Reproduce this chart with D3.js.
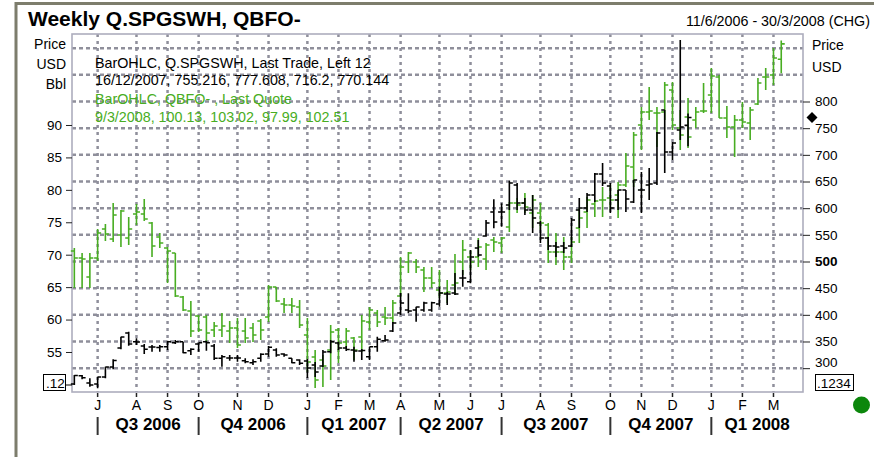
<!DOCTYPE html>
<html><head><meta charset="utf-8">
<script src="https://cdn.jsdelivr.net/npm/d3@7"></script>
<style>
body{margin:0;background:#fff}
svg{display:block;font-family:"Liberation Sans",Arial,sans-serif}
</style>
</head><body>
<svg id="c" width="874" height="457"></svg>
<script>
// ---- data ----
const titleText = "Weekly Q.SPGSWH, QBFO-";
const rangeText = "11/6/2006 - 30/3/2008 (CHG)";
const firstWeek = [2006, 5, 11];   // Sunday 11/6/2006
const lastWeek  = [2008, 2, 9];    // Sunday 9/3/2008

// QBFO- (green, left axis, USD/Bbl)
const gOpen  = [70.57,69.49,66.56,69.49,73.97,72.42,73.04,72.58,76.28,76.28,74.89,72.73,71.04,70.27,63.48,61.32,60.55,60.40,58.39,58.39,58.24,58.70,58.24,58.70,59.78,60.40,65.02,62.40,62.25,61.94,57.62,54.23,53.77,55.31,58.39,56.54,57.16,57.31,59.63,61.01,60.40,60.24,63.64,68.88,68.88,67.64,66.41,64.56,64.10,65.33,68.88,69.65,69.65,69.34,72.27,71.80,74.27,77.97,77.97,76.43,76.43,74.58,70.42,70.42,69.65,74.12,76.59,77.82,78.44,78.74,79.21,80.75,83.52,90.00,92.00,91.85,92.00,95.40,89.54,91.23,90.77,92.16,94.62,97.40,91.08,89.69,90.77,90.31,93.24,97.40,97.71,100.13];
const gHigh  = [71.04,70.27,70.27,73.97,74.74,77.97,76.89,75.81,77.82,78.59,75.04,73.35,71.19,70.27,63.64,62.87,60.70,60.70,59.63,61.01,59.78,60.24,60.24,59.47,60.09,65.33,65.02,63.33,63.33,63.02,60.24,55.31,54.54,59.16,58.70,58.70,57.31,60.70,61.94,61.48,61.94,63.02,69.65,70.42,69.34,68.11,68.11,67.64,66.10,70.11,72.27,70.73,72.58,71.80,72.73,72.73,78.13,78.74,79.52,79.21,77.97,74.89,73.35,72.73,72.73,77.20,78.90,78.44,80.44,80.75,81.21,85.68,88.92,92.77,95.86,92.77,96.63,96.63,92.31,94.16,92.77,96.47,98.79,97.71,92.93,91.54,93.54,92.77,97.25,98.79,101.87,103.02];
const gLow   = [64.87,64.87,64.87,69.03,72.11,71.96,71.19,71.50,74.58,75.20,69.65,71.04,65.64,63.48,61.32,57.31,58.08,56.54,57.31,57.31,56.39,55.62,56.39,56.54,56.85,59.63,62.71,61.01,61.01,58.70,51.92,49.45,49.61,50.68,53.30,55.77,53.77,55.00,58.39,58.86,59.16,59.47,63.48,67.18,67.18,64.25,64.87,63.33,62.56,63.79,66.87,67.64,68.11,67.64,70.42,70.27,73.50,76.43,76.43,74.12,73.81,68.72,68.41,67.64,68.72,71.80,74.12,75.81,75.81,76.89,75.66,80.44,80.44,86.15,90.77,86.61,90.77,89.23,86.15,86.45,89.54,91.85,91.85,91.08,87.99,85.07,89.54,87.69,93.08,95.40,96.17,97.99];
const gClose = [69.49,69.34,69.49,73.35,73.19,76.13,76.74,73.97,76.59,75.51,71.34,71.80,70.57,63.64,61.48,58.24,58.39,57.93,59.01,59.01,58.70,56.08,57.16,57.62,58.39,65.02,62.87,62.25,62.09,59.16,53.46,50.68,52.84,58.08,56.39,58.24,55.31,59.78,61.48,59.63,60.24,62.56,68.11,70.27,68.11,66.41,65.64,64.10,64.25,65.64,70.73,68.88,71.19,71.50,71.96,72.58,77.97,77.67,77.36,78.44,74.89,70.42,70.42,69.65,71.96,75.66,78.44,78.28,78.44,78.44,80.75,83.68,88.46,92.00,92.16,91.85,96.17,90.00,88.46,88.15,92.00,92.16,97.55,91.08,89.69,90.77,90.46,92.31,96.47,97.40,100.33,102.51];

// Q.SPGSWH (black, right axis, USD)
const bOpen  = [270.3,285.9,272.2,270.3,283.4,302.2,337.8,365.9,349.6,341.6,339.7,338.7,340.2,347.7,349.6,332.7,345.3,349.6,341.6,318.5,319.1,319.1,313.9,310.2,318.5,326.6,334.1,326.6,318.5,315.3,313.4,305.9,304.1,330.9,347.2,337.8,334.1,332.2,321.5,340.2,351.5,369.7,403.5,409.1,409.1,409.1,409.1,420.3,439.1,440.9,469.1,462.1,525.3,547.8,592.8,592.8,605.9,643.4,609.7,596.6,572.2,544.1,529.1,529.1,529.1,596.6,600.3,624.7,664.1,641.6,615.3,634.1,611.6,634.1,643.4,647.2,784.1,705.3,746.5,755.216];
const bHigh  = [287.2,287.2,281.0,284.0,302.7,316.6,359.0,368.4,356.0,345.3,343.4,343.4,351.5,352.8,349.6,337.2,347.7,351.5,345.3,324.7,324.7,324.7,318.5,316.6,327.9,341.6,337.2,327.9,318.5,316.6,317.2,311.6,334.1,352.8,349.6,341.6,340.2,335.9,340.2,359.0,362.2,386.5,440.9,440.4,415.2,424.6,424.6,452.7,443.4,478.4,484.1,521.6,540.3,577.8,616.6,609.1,651.5,647.2,619.0,624.7,575.9,545.9,536.6,536.6,581.6,619.0,628.4,665.9,684.7,647.2,634.1,634.1,652.8,667.8,675.3,742.8,784.1,724.1,915.3,777.608];
const bLow   = [268.4,279.1,265.2,262.2,281.0,297.9,335.4,342.1,343.4,326.6,330.9,330.9,334.1,345.3,327.9,324.7,330.9,332.7,315.3,302.7,313.9,312.1,309.1,305.9,312.1,321.5,321.5,321.5,309.1,305.9,281.6,283.4,302.2,327.9,334.1,332.2,312.1,315.3,315.3,330.9,349.6,367.8,399.7,402.9,387.1,405.9,405.9,415.2,418.5,437.2,452.7,459.1,509.0,546.5,562.2,565.2,596.6,596.6,587.2,553.4,534.7,521.6,508.5,515.9,527.2,562.8,592.8,611.6,641.6,590.9,596.6,592.8,609.7,590.9,615.3,643.4,665.9,690.3,727.8,716.2];
const bClose = [286.2,282.1,268.4,283.4,302.2,314.4,358.4,345.3,349.1,335.4,339.7,340.2,349.6,349.6,329.0,335.4,347.7,347.7,318.5,321.5,319.1,319.1,312.1,312.1,326.0,339.1,324.7,324.7,310.2,309.1,300.3,292.8,330.3,349.6,337.8,335.0,332.2,333.1,340.2,354.1,352.8,384.7,422.2,407.2,414.7,422.2,422.7,440.9,439.1,439.1,469.1,508.5,512.2,572.2,574.1,592.8,647.2,609.7,596.6,581.6,544.1,529.1,527.2,525.3,577.8,600.3,624.7,664.1,647.2,600.3,634.1,617.2,652.8,634.1,645.3,740.9,705.3,722.2,752.2,770.144];

const leftTicks  = [55,60,65,70,75,80,85,90];
const rightTicks = [300,350,400,450,500,550,600,650,700,750,800];
const gridValues = [300,350,400,450,500,550,600,650,700,750,800,850,900];
const monthLetters = ["J","F","M","A","M","J","J","A","S","O","N","D"];

// ---- layout ----
const svg = d3.select("#c");
const P = {l:72, r:803, t:34, b:392};
const GREEN = "#48ad22";

const weeks = d3.utcWeek.range(new Date(Date.UTC(...firstWeek)), new Date(Date.UTC(lastWeek[0], lastWeek[1], lastWeek[2]+1)));
const x = d3.scaleLinear().domain([-0.3, 93.8]).range([P.l, P.r]);
const yL = d3.scaleLinear().domain([48.83, 104.03]).range([P.b, P.t]);
const yR = d3.scaleLinear().domain([255.3, 926.6]).range([P.b, P.t]);

// outer frame lines
svg.append("line").attr("x1",16).attr("x2",874).attr("y1",3.5).attr("y2",3.5).attr("stroke","#7d7d6c").attr("stroke-width",3);
svg.append("line").attr("x1",16).attr("x2",16).attr("y1",2).attr("y2",457).attr("stroke","#7d7d6c").attr("stroke-width",3);

// title
svg.append("text").attr("x",28).attr("y",26).attr("font-size",21).attr("font-weight","bold").text(titleText);
svg.append("text").attr("x",870).attr("y",26).attr("text-anchor","end").attr("font-size",14.3).text(rangeText);

// month ticks
const monthIdx = [];
weeks.forEach((d,i)=>{ if(i>0 && d.getUTCMonth()!==weeks[i-1].getUTCMonth()) monthIdx.push(i); });

// grid
const grid = svg.append("g");
grid.selectAll("line.h").data(gridValues).join("line")
  .attr("x1",P.l).attr("x2",P.r).attr("y1",d=>yR(d)).attr("y2",d=>yR(d))
  .attr("stroke","#8f8f9b").attr("stroke-width",2.5).attr("stroke-dasharray","4,3");
grid.selectAll("line.v").data(monthIdx).join("line")
  .attr("x1",d=>x(d)).attr("x2",d=>x(d)).attr("y1",P.t).attr("y2",P.b)
  .attr("stroke","#8f8f9b").attr("stroke-width",2.5).attr("stroke-dasharray","3,4");

// plot border
svg.append("rect").attr("x",P.l).attr("y",P.t).attr("width",P.r-P.l).attr("height",P.b-P.t)
  .attr("fill","none").attr("stroke","#adadbd").attr("stroke-width",1.6);

// OHLC bars
function ohlc(g, O, H, L, C, y, color, w){
  const t = 3.5;
  g.selectAll("path").data(O.map((o,i)=>i)).join("path")
    .attr("d", i => {
      const xi = x(i);
      return `M${xi},${y(H[i])}V${y(L[i])}M${xi-t},${y(O[i])}H${xi}M${xi},${y(C[i])}H${xi+t}`;
    })
    .attr("fill","none").attr("stroke",color).attr("stroke-width",w);
}
ohlc(svg.append("g"), gOpen, gHigh, gLow, gClose, yL, GREEN, 1.6);
ohlc(svg.append("g"), bOpen, bHigh, bLow, bClose, yR, "#000", 1.6);

// legend
const fmt = d3.utcFormat("%-d/%-m/%Y");
const lb = bOpen.length-1, lg = gOpen.length-1;
const leg = svg.append("g").attr("font-size",14.3);
leg.append("text").attr("x",95).attr("y",68).attr("fill","#000").text("BarOHLC, Q.SPGSWH, Last Trade, Left 12");
leg.append("text").attr("x",95).attr("y",85).attr("fill","#000").text(`${fmt(weeks[lb])}, ${bOpen[lb]}, ${bHigh[lb]}, ${bLow[lb]}, ${bClose[lb]}`);
leg.append("text").attr("x",95).attr("y",104).attr("fill",GREEN).text("BarOHLC, QBFO- , Last Quote");
leg.append("text").attr("x",95).attr("y",122).attr("fill",GREEN).text(`${fmt(weeks[lg])}, ${gOpen[lg]}, ${gHigh[lg]}, ${gLow[lg]}, ${gClose[lg]}`);

// left axis
const axL = svg.append("g").attr("transform",`translate(${P.l},0)`)
  .call(d3.axisLeft(yL).tickValues(leftTicks).tickSize(6).tickPadding(4));
axL.select(".domain").remove();
axL.selectAll("text").attr("font-size",13.5).attr("font-family","Liberation Sans, Arial, sans-serif").attr("fill","#000");
axL.selectAll("line").attr("stroke","#222");
svg.append("g").attr("font-size",14).attr("text-anchor","end").selectAll("text")
  .data([["Price",49],["USD",69],["Bbl",89]]).join("text")
  .attr("x",66).attr("y",d=>d[1]).text(d=>d[0]);

// right axis
const axR = svg.append("g").attr("transform",`translate(${P.r},0)`)
  .call(d3.axisRight(yR).tickValues(rightTicks).tickSize(7).tickPadding(5));
axR.select(".domain").remove();
axR.selectAll("text").attr("font-size",13.5).attr("font-family","Liberation Sans, Arial, sans-serif").attr("fill","#000")
  .attr("font-weight",d=>d===500?"bold":"normal")
  .attr("dy",d=>d===300?"-0.1em":"0.32em");
axR.selectAll("line").attr("stroke","#222");
svg.append("g").attr("font-size",14).selectAll("text")
  .data([["Price",50],["USD",72]]).join("text")
  .attr("x",812).attr("y",d=>d[1]).text(d=>d[0]);

// last value diamond (black close)
const dy = yR(bClose[lb]);
svg.append("path").attr("d",`M812,${dy-5.5}L817.5,${dy}L812,${dy+5.5}L806.5,${dy}Z`).attr("fill","#000");

// value boxes
svg.append("line").attr("x1",66).attr("x2",72).attr("y1",385).attr("y2",385).attr("stroke","#000");
svg.append("rect").attr("x",43.5).attr("y",374.5).attr("width",22).attr("height",16).attr("fill","#fff").attr("stroke","#000");
svg.append("text").attr("x",46).attr("y",387.5).attr("font-size",13.5).text(".12");
svg.append("rect").attr("x",815.5).attr("y",374.5).attr("width",38).attr("height",16).attr("fill","#fff").attr("stroke","#000");
svg.append("text").attr("x",817).attr("y",387.5).attr("font-size",13.5).text(".1234");

// green status dot
svg.append("circle").attr("cx",861.5).attr("cy",405).attr("r",8.5).attr("fill","#0c870c");

// x axis: months
const xa = svg.append("g");
xa.selectAll("line").data(monthIdx).join("line")
  .attr("x1",d=>x(d)).attr("x2",d=>x(d)).attr("y1",P.b+1).attr("y2",P.b+5).attr("stroke","#222").attr("stroke-width",1.5);
xa.selectAll("text").data(monthIdx).join("text")
  .attr("x",d=>x(d)).attr("y",410).attr("text-anchor","middle").attr("font-size",14)
  .text(d=>monthLetters[weeks[d].getUTCMonth()]);

// quarters
const qIdx = monthIdx.filter(i=>weeks[i].getUTCMonth()%3===0);
const qg = svg.append("g");
qg.selectAll("line").data(qIdx).join("line")
  .attr("x1",d=>x(d)).attr("x2",d=>x(d)).attr("y1",417).attr("y2",435).attr("stroke","#333").attr("stroke-width",2);
qg.selectAll("text").data(qIdx).join("text")
  .attr("x",(d,k)=>{ const nx = k+1<qIdx.length ? x(qIdx[k+1]) : P.r; return (x(d)+nx)/2; })
  .attr("y",430).attr("text-anchor","middle").attr("font-size",17).attr("font-weight","bold")
  .text(d=>`Q${Math.floor(weeks[d].getUTCMonth()/3)+1} ${weeks[d].getUTCFullYear()}`);
</script>
</body></html>
